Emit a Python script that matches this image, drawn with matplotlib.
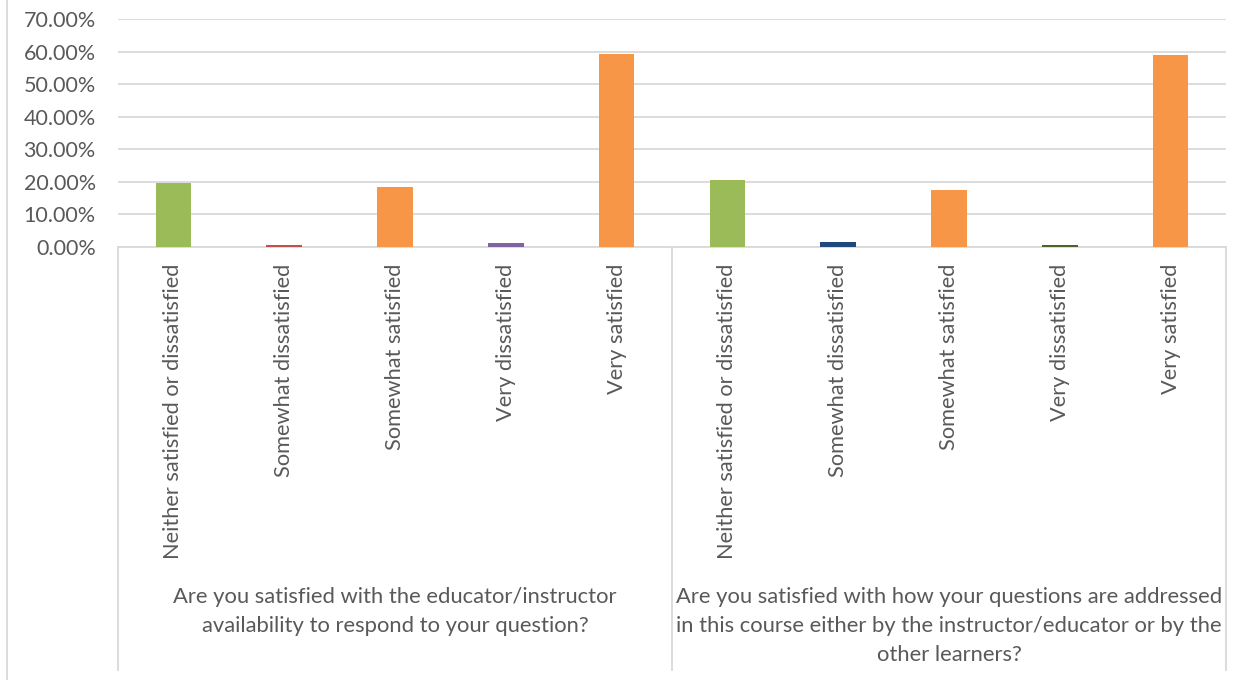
import matplotlib
matplotlib.use("Agg")
import matplotlib.pyplot as plt
from matplotlib.lines import Line2D
from matplotlib.ticker import FuncFormatter
from matplotlib.transforms import blended_transform_factory

plt.rcParams['font.family'] = ['Lato', 'DejaVu Sans']

categories = ["Neither satisfied or dissatisfied", "Somewhat dissatisfied",
              "Somewhat satisfied", "Very dissatisfied", "Very satisfied"]
questions = ["Are you satisfied with the educator/instructor\navailability to respond to your question?",
             "Are you satisfied with how your questions are addressed\nin this course either by the instructor/educator or by the\nother learners?"]
values_q1 = [19.7, 0.5, 18.4, 1.2, 59.4]
values_q2 = [20.6, 1.5, 17.5, 0.5, 59.0]
colors_q1 = ["#9BBB59", "#C0504D", "#F79646", "#8064A2", "#F79646"]
colors_q2 = ["#9BBB59", "#1F497D", "#F79646", "#4F6228", "#F79646"]
yticks = [0, 10, 20, 30, 40, 50, 60, 70]

W, H = 1244, 680
fig = plt.figure(figsize=(W / 100, H / 100), dpi=100)
x0, x1, ytop, ybot = 118, 1226, 19, 247
ax = fig.add_axes([x0 / W, 1 - ybot / H, (x1 - x0) / W, (ybot - ytop) / H])

values = values_q1 + values_q2
colors = colors_q1 + colors_q2
labels = categories + categories
xs = list(range(len(values)))
ax.bar(xs, values, width=0.32, color=colors, zorder=3)

ax.set_xlim(-0.5, len(values) - 0.5)
ax.set_ylim(0, 70)
ax.set_yticks(yticks)
ax.yaxis.set_major_formatter(FuncFormatter(lambda v, p: f"{v:.2f}%"))
ax.tick_params(axis='y', length=0, labelsize=15.5, labelcolor="#595959", pad=16)
ax.set_xticks([])
ax.grid(axis='y', color="#D9D9D9", linewidth=1.3, zorder=0)
for s in ["left", "right", "top"]:
    ax.spines[s].set_visible(False)
ax.spines["bottom"].set_color("#D9D9D9")
ax.spines["bottom"].set_linewidth(1.3)

# rotated category labels
tr = blended_transform_factory(ax.transData, fig.transFigure)
for x, lab in zip(xs, labels):
    ax.text(x, 1 - 264 / H, lab, rotation=90, ha='center', va='top',
            fontsize=15.7, color="#595959", transform=tr)

# group labels
n = len(categories)
for g, q in enumerate(questions):
    cx = g * n + (n - 1) / 2
    ax.text(cx, 1 - 587 / H, q, ha='center', va='top', fontsize=15.8,
            color="#595959", transform=tr, linespacing=1.56)

# separators
for xsep in [-0.5, n - 0.5, 2 * n - 0.5]:
    ax.add_line(Line2D([xsep, xsep], [1 - ybot / H, 1 - 670 / H], transform=tr,
                       color="#D9D9D9", linewidth=1.3, clip_on=False))

# chart border at left
fig.add_artist(Line2D([7.5 / W, 7.5 / W], [0, 1], color="#D9D9D9", linewidth=1.3))

fig.savefig("out.png", dpi=100)
